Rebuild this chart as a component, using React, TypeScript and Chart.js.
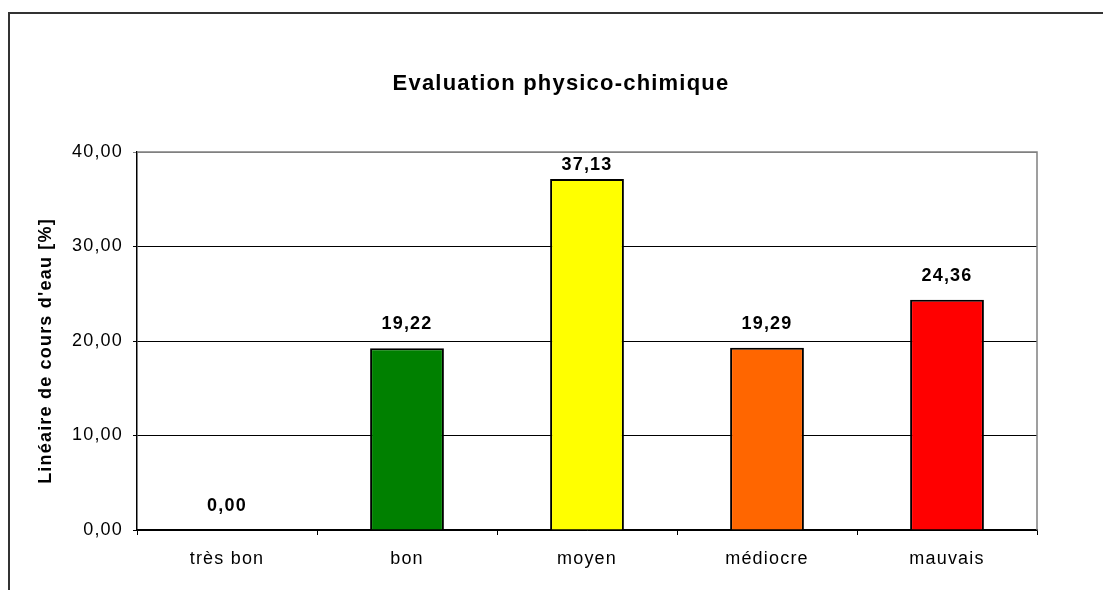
import React, { useEffect, useRef } from "react";
import { Chart, registerables } from "chart.js";

Chart.register(...registerables);

const categories = ["très bon", "bon", "moyen", "médiocre", "mauvais"];
const values = [0.0, 19.22, 37.13, 19.29, 24.36];
const barColors = ["#FFFFFF", "#008000", "#FFFF00", "#FF6600", "#FF0000"];
const yTicks = [0, 10, 20, 30, 40];
const chartTitle = "Evaluation physico-chimique";
const yTitle = "Linéaire de cours d'eau [%]";

const FAMILY = "Arial, 'Liberation Sans', sans-serif";
const SPACING = "1.2px";

const fmt = (v: number) => v.toFixed(2).replace(".", ",");

const spacingPlugin = {
  id: "spacing",
  beforeUpdate(chart: any) {
    (chart.ctx as any).letterSpacing = SPACING;
  },
  beforeLayout(chart: any) {
    (chart.ctx as any).letterSpacing = SPACING;
  },
  beforeDraw(chart: any) {
    (chart.ctx as any).letterSpacing = SPACING;
  },
};

const framePlugin = {
  id: "frame",
  afterDraw(chart: any) {
    const { ctx, chartArea, width } = chart;
    ctx.save();
    ctx.strokeStyle = "#808080";
    ctx.lineWidth = 1.5;
    ctx.beginPath();
    ctx.moveTo(chartArea.left, chartArea.top);
    ctx.lineTo(chartArea.right, chartArea.top);
    ctx.lineTo(chartArea.right, chartArea.bottom);
    ctx.stroke();

    // chart title, centred on the whole chart box
    (ctx as any).letterSpacing = SPACING;
    ctx.fillStyle = "#000000";
    ctx.textAlign = "center";
    ctx.textBaseline = "middle";
    ctx.font = `bold 22px ${FAMILY}`;
    ctx.fillText(chartTitle, width / 2, 70);

    // y-axis title
    ctx.translate(36, 337);
    ctx.rotate(-Math.PI / 2);
    ctx.font = `bold 18px ${FAMILY}`;
    ctx.fillText(yTitle, 0, 0);
    ctx.restore();
  },
};

const labelPlugin = {
  id: "barLabels",
  afterDatasetsDraw(chart: any) {
    const { ctx, chartArea } = chart;
    const meta = chart.getDatasetMeta(0);
    ctx.save();
    (ctx as any).letterSpacing = SPACING;
    ctx.font = `bold 18px ${FAMILY}`;
    ctx.fillStyle = "#000000";
    ctx.textAlign = "center";
    ctx.textBaseline = "middle";
    meta.data.forEach((bar: any, i: number) => {
      let y = bar.y - 24;
      if (y < chartArea.top + 13) y = chartArea.top + 13;
      ctx.fillText(fmt(values[i]), bar.x, y);
    });
    ctx.restore();
  },
};

export default function App() {
  const ref = useRef<HTMLCanvasElement | null>(null);

  useEffect(() => {
    if (!ref.current) return;
    const chart = new Chart(ref.current, {
      type: "bar",
      data: {
        labels: categories,
        datasets: [
          {
            data: values,
            backgroundColor: barColors,
            borderColor: "#000000",
            borderWidth: 2,
            categoryPercentage: 1,
            barPercentage: 0.41,
          },
        ],
      },
      options: {
        animation: false,
        responsive: false,
        maintainAspectRatio: false,
        layout: { padding: { left: 0, right: 75, top: 138, bottom: 0 } },
        plugins: {
          legend: { display: false },
          tooltip: { enabled: false },
          title: { display: false },
        },
        scales: {
          x: {
            grid: {
              offset: true,
              drawOnChartArea: false,
              tickLength: 5,
              color: "#000000",
              lineWidth: 1,
            },
            border: { color: "#000000", width: 1.5 },
            ticks: {
              color: "#000000",
              font: { family: FAMILY, size: 18 },
              padding: 13,
              maxRotation: 0,
            },
            afterFit(scale: any) {
              scale.height = 60;
            },
          },
          y: {
            min: 0,
            max: 40,
            afterBuildTicks(scale: any) {
              scale.ticks = yTicks.map((v) => ({ value: v }));
            },
            grid: {
              color: (c: any) => (c.tick && c.tick.value === 40 ? "#808080" : "#000000"),
              lineWidth: 1,
              tickLength: 4,
            },
            border: { color: "#000000", width: 1.5 },
            ticks: {
              color: "#000000",
              font: { family: FAMILY, size: 18 },
              padding: 10,
              callback: (v: any) => fmt(Number(v)),
            },
            title: { display: false },
            afterFit(scale: any) {
              scale.width = 127;
            },
          },
        },
      },
      plugins: [spacingPlugin, framePlugin, labelPlugin],
    } as any);
    return () => chart.destroy();
  }, []);

  return (
    <div
      style={{
        position: "fixed",
        left: 0,
        top: 0,
        width: 1103,
        height: 590,
        overflow: "hidden",
        background: "#ffffff",
      }}
    >
      <div
        style={{
          position: "absolute",
          left: 8,
          top: 12,
          width: 1200,
          height: 700,
          borderLeft: "2px solid #333333",
          borderTop: "2px solid #333333",
          boxSizing: "border-box",
        }}
      />
      <canvas
        ref={ref}
        width={1102}
        height={576}
        style={{ position: "absolute", left: 10, top: 14, width: 1102, height: 576 }}
      />
    </div>
  );
}
